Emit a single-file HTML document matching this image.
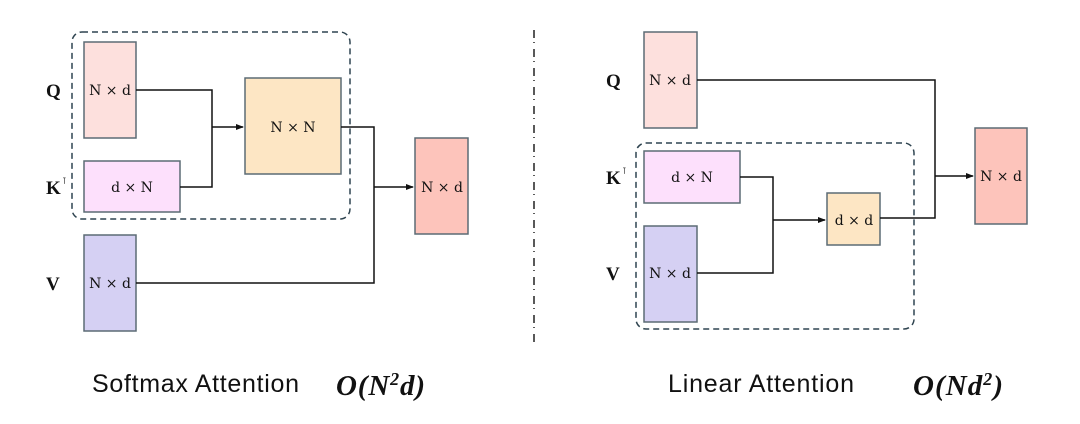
<!DOCTYPE html>
<html><head><meta charset="utf-8"><style>
html,body{margin:0;padding:0;background:#fff;width:1080px;height:424px;overflow:hidden}
svg{display:block}
.b{stroke:#5c6b75;stroke-width:1.5}
.t{font-family:"DejaVu Serif","Liberation Serif",serif;font-size:14px;fill:#111}
.l{font-family:"Liberation Serif",serif;font-weight:bold;font-size:19px;fill:#111}
.w{stroke:#111;stroke-width:1.5;fill:none}
.d{stroke:#2f4450;stroke-width:1.5;stroke-dasharray:6 4;fill:none}
.cap{font-family:"Liberation Sans",sans-serif;font-size:25px;fill:#111}
.o{font-family:"Liberation Serif",serif;font-weight:bold;font-style:italic;font-size:29px;fill:#111}
.o tspan.s{font-size:18px}
</style></head><body>
<svg width="1080" height="424" viewBox="0 0 1080 424">
<defs><marker id="a" markerWidth="8" markerHeight="8" refX="7" refY="4" orient="auto" markerUnits="userSpaceOnUse"><path d="M0,1 L8,4 L0,7 z" fill="#111"/></marker></defs>
<!-- left -->
<rect class="d" x="72" y="32" width="278" height="187" rx="10"/>
<rect class="b" x="84" y="42" width="52" height="96" fill="#fde0dd"/>
<rect class="b" x="84" y="161" width="96" height="51" fill="#fde0fc"/>
<rect class="b" x="245" y="78" width="96" height="96" fill="#fde6c4"/>
<rect class="b" x="415" y="138" width="53" height="96" fill="#fdc4bb"/>
<rect class="b" x="84" y="235" width="52" height="96" fill="#d5d0f3"/>
<path class="w" d="M136 90 H212 V187 H180"/>
<path class="w" d="M212 127 H243" marker-end="url(#a)"/>
<path class="w" d="M341 127 H374 V283 H136"/>
<path class="w" d="M374 187 H413" marker-end="url(#a)"/>
<text class="t" x="110" y="95" text-anchor="middle">N × d</text>
<text class="t" x="132" y="192" text-anchor="middle">d × N</text>
<text class="t" x="293" y="132" text-anchor="middle">N × N</text>
<text class="t" x="442" y="192" text-anchor="middle">N × d</text>
<text class="t" x="110" y="288" text-anchor="middle">N × d</text>
<text class="l" x="46" y="97">Q</text>
<text class="l" x="46" y="194">K</text><text x="62" y="184" style="font-family:'DejaVu Sans',sans-serif;font-size:9px">⊺</text>
<text class="l" x="46" y="290">V</text>
<!-- separator -->
<line x1="534" y1="30" x2="534" y2="345" stroke="#222" stroke-width="1.5" stroke-dasharray="8 4 1 6"/>
<!-- right -->
<rect class="d" x="636" y="143" width="278" height="186" rx="10"/>
<rect class="b" x="644" y="32" width="53" height="96" fill="#fde0dd"/>
<rect class="b" x="644" y="151" width="96" height="52" fill="#fde0fc"/>
<rect class="b" x="644" y="226" width="53" height="96" fill="#d5d0f3"/>
<rect class="b" x="827" y="193" width="53" height="52" fill="#fde6c4"/>
<rect class="b" x="975" y="128" width="52" height="96" fill="#fdc4bb"/>
<path class="w" d="M697 80 H935 V218 H880"/>
<path class="w" d="M935 176 H973" marker-end="url(#a)"/>
<path class="w" d="M740 177 H773 V273 H697"/>
<path class="w" d="M773 220 H825" marker-end="url(#a)"/>
<text class="t" x="670" y="85" text-anchor="middle">N × d</text>
<text class="t" x="692" y="182" text-anchor="middle">d × N</text>
<text class="t" x="670" y="278" text-anchor="middle">N × d</text>
<text class="t" x="854" y="225" text-anchor="middle">d × d</text>
<text class="t" x="1001" y="181" text-anchor="middle">N × d</text>
<text class="l" x="606" y="87">Q</text>
<text class="l" x="606" y="184">K</text><text x="622" y="174" style="font-family:'DejaVu Sans',sans-serif;font-size:9px">⊺</text>
<text class="l" x="606" y="280">V</text>
<!-- captions -->
<text class="cap" x="92" y="392" textLength="207">Softmax Attention</text>
<text class="o" x="336" y="395" textLength="89">O(N<tspan class="s" dy="-10">2</tspan><tspan dy="10">d)</tspan></text>
<text class="cap" x="668" y="392" textLength="186">Linear Attention</text>
<text class="o" x="913" y="395" textLength="90">O(Nd<tspan class="s" dy="-10">2</tspan><tspan dy="10">)</tspan></text>
</svg>
</body></html>
